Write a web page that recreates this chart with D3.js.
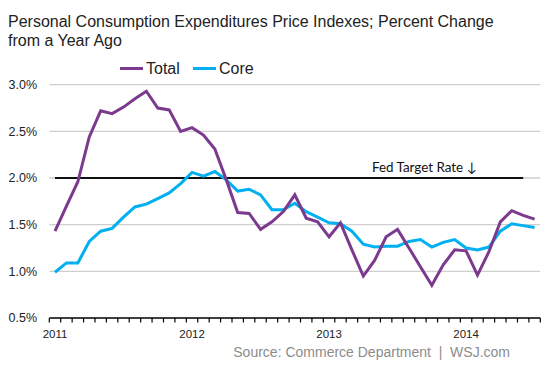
<!DOCTYPE html>
<html>
<head>
<meta charset="utf-8">
<script src="https://cdn.jsdelivr.net/npm/d3@7"></script>
<style>
  html, body { margin: 0; padding: 0; background: #fff; }
  svg { display: block; }
</style>
</head>
<body>
<svg id="chart" width="553" height="369"></svg>
<script>
// ---- Data ----
const startMonth = new Date(2011, 0, 1);
const endMonth = new Date(2014, 6, 1);
const months = d3.timeMonth.range(startMonth, d3.timeMonth.offset(endMonth, 1)); // Jan 2011 .. Jul 2014

const totalValues = [
  1.43, 1.70, 1.96, 2.44, 2.72, 2.69, 2.76, 2.85, 2.93, 2.75, 2.73, 2.50,
  2.54, 2.46, 2.31, 1.98, 1.63, 1.62, 1.45, 1.53, 1.64, 1.82, 1.57, 1.53,
  1.37, 1.52, 1.23, 0.95, 1.12, 1.37, 1.45, 1.25, 1.05, 0.85, 1.07, 1.23,
  1.22, 0.96, 1.21, 1.53, 1.65, 1.60, 1.56
];
const coreValues = [
  0.99, 1.09, 1.09, 1.32, 1.43, 1.46, 1.58, 1.69, 1.72, 1.78, 1.84, 1.94,
  2.06, 2.02, 2.07, 1.98, 1.86, 1.88, 1.82, 1.66, 1.66, 1.73, 1.64, 1.58,
  1.52, 1.51, 1.43, 1.29, 1.26, 1.27, 1.27, 1.32, 1.34, 1.26, 1.31, 1.34,
  1.25, 1.23, 1.26, 1.43, 1.51, 1.49, 1.47
];
const fedTargetValue = 2.0;
const fedTargetMonths = [new Date(2011, 0, 1), new Date(2014, 5, 1)];
const yTicks = [0.5, 1.0, 1.5, 2.0, 2.5, 3.0];
const yearLabels = ["2011", "2012", "2013", "2014"];
const seriesNames = ["Total", "Core"];
const colors = { Total: "#7B3A8D", Core: "#00B0F0" };

// ---- Layout ----
const svg = d3.select("#chart");
const x = d3.scaleBand().domain(months.map(d => +d)).range([49.3, 540.3]).paddingInner(0).paddingOuter(0);
const xc = d => x(+d) + x.bandwidth() / 2;
const y = d3.scaleLinear().domain([0.5, 3.0]).range([318, 84.7]);

// Title
const title = svg.append("text").attr("x", 8).attr("font-family", "Liberation Sans, Arial, sans-serif")
  .attr("font-size", 16).attr("fill", "#222");
title.append("tspan").attr("x", 8).attr("y", 27).text("Personal Consumption Expenditures Price Indexes; Percent Change");
title.append("tspan").attr("x", 8).attr("y", 45.5).text("from a Year Ago");

// Gridlines
svg.append("g").selectAll("line").data(yTicks.filter(t => t > 0.5)).join("line")
  .attr("x1", 49.3).attr("x2", 540.3)
  .attr("y1", d => y(d)).attr("y2", d => y(d))
  .attr("stroke", "#CFCFCF").attr("stroke-width", 1.3);

// Y labels
svg.append("g").selectAll("text").data(yTicks).join("text")
  .attr("x", 37).attr("y", d => y(d) + 4.3)
  .attr("text-anchor", "end")
  .attr("font-family", "Liberation Sans, Arial, sans-serif").attr("font-size", 12.5).attr("fill", "#222")
  .text(d => d.toFixed(1) + "%");

// X axis
const axisG = svg.append("g").attr("transform", `translate(0,${y(0.5)})`);
axisG.append("line").attr("x1", 49.3).attr("x2", 540.3).attr("y1", 0).attr("y2", 0)
  .attr("stroke", "#000").attr("stroke-width", 1.5);
const boundaries = months.map(d => x(+d)).concat([x(+months[months.length - 1]) + x.bandwidth()]);
axisG.selectAll("line.tick").data(boundaries).join("line").attr("class", "tick")
  .attr("x1", d => d).attr("x2", d => d).attr("y1", 0).attr("y2", 4.5)
  .attr("stroke", "#000").attr("stroke-width", 1.2);
axisG.selectAll("text").data(yearLabels).join("text")
  .attr("x", d => xc(new Date(+d, 0, 1))).attr("y", 19.5)
  .attr("text-anchor", "middle")
  .attr("font-family", "Liberation Sans, Arial, sans-serif").attr("font-size", 11.5).attr("fill", "#222")
  .text(d => d);

// Fed target line
svg.append("line")
  .attr("x1", xc(fedTargetMonths[0])).attr("x2", xc(fedTargetMonths[1]))
  .attr("y1", y(fedTargetValue)).attr("y2", y(fedTargetValue))
  .attr("stroke", "#111").attr("stroke-width", 2);
svg.append("text").attr("x", 372).attr("y", 172)
  .attr("font-family", "Lato, 'Open Sans', sans-serif").attr("font-size", 13.4).attr("fill", "#111")
  .text("Fed Target Rate \u2193");

// Lines
const line = d3.line().x((d, i) => xc(months[i])).y(d => y(d));
svg.append("path").datum(coreValues).attr("d", line)
  .attr("fill", "none").attr("stroke", colors.Core).attr("stroke-width", 3).attr("stroke-linejoin", "miter");
svg.append("path").datum(totalValues).attr("d", line)
  .attr("fill", "none").attr("stroke", colors.Total).attr("stroke-width", 3).attr("stroke-linejoin", "miter");

// Legend
const legendPos = { Total: 120, Core: 193 };
const lg = svg.append("g").selectAll("g").data(seriesNames).join("g")
  .attr("transform", d => `translate(${legendPos[d]},68.5)`);
lg.append("line").attr("x1", 0).attr("x2", 23).attr("y1", 0).attr("y2", 0)
  .attr("stroke", d => colors[d]).attr("stroke-width", 3);
lg.append("text").attr("x", 26).attr("y", 5.5)
  .attr("font-family", "Liberation Sans, Arial, sans-serif").attr("font-size", 16).attr("fill", "#222")
  .text(d => d);

// Source
svg.append("text").attr("x", 510).attr("y", 357).attr("text-anchor", "end")
  .attr("font-family", "Liberation Sans, Arial, sans-serif").attr("font-size", 14).attr("fill", "#8C8C8C")
  .attr("xml:space", "preserve")
  .text("Source: Commerce Department  |  WSJ.com");
</script>
</body>
</html>
